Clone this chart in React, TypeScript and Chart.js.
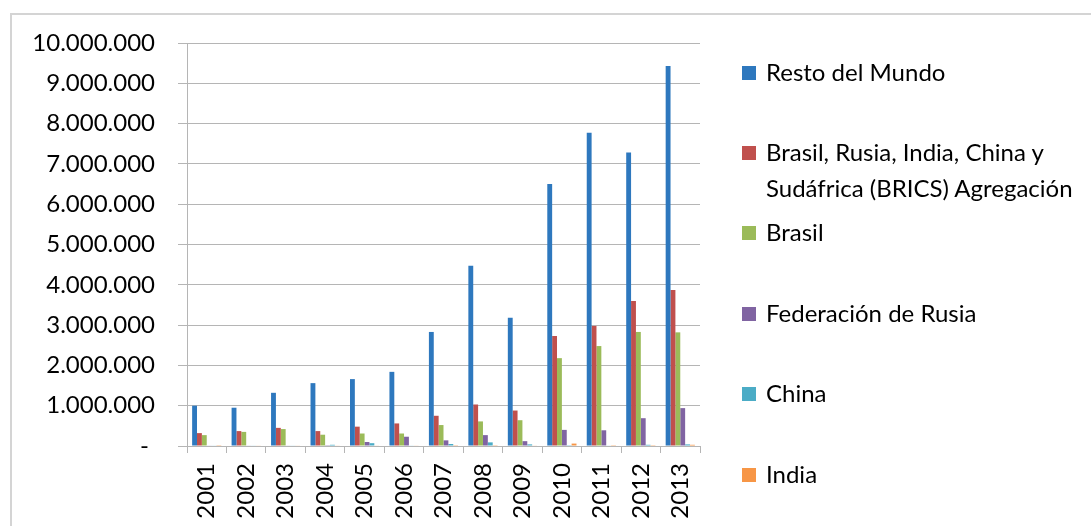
import React, { useEffect, useRef } from "react";
import { Chart, registerables } from "chart.js";

Chart.register(...registerables);

const years = ["2001", "2002", "2003", "2004", "2005", "2006", "2007", "2008", "2009", "2010", "2011", "2012", "2013"];

const seriesNames = [
  "Resto del Mundo",
  "Brasil, Rusia, India, China y\nSudáfrica (BRICS) Agregación",
  "Brasil",
  "Federación de Rusia",
  "China",
  "India",
];

const restoDelMundo = [1000000, 950000, 1320000, 1560000, 1660000, 1840000, 2830000, 4470000, 3180000, 6500000, 7770000, 7280000, 9430000];
const brics = [320000, 370000, 450000, 370000, 480000, 560000, 750000, 1030000, 880000, 2730000, 2980000, 3600000, 3870000];
const brasil = [270000, 350000, 420000, 280000, 310000, 310000, 520000, 610000, 640000, 2180000, 2480000, 2830000, 2820000];
const rusia = [10000, 10000, 10000, 20000, 100000, 230000, 140000, 270000, 120000, 400000, 390000, 690000, 940000];
const china = [10000, 10000, 10000, 30000, 70000, 10000, 50000, 90000, 40000, 20000, 10000, 30000, 40000];
const india = [20000, 10000, 10000, 10000, 10000, 10000, 20000, 20000, 10000, 60000, 20000, 20000, 30000];

const yMax = 10000000;
const yStep = 1000000;

const colors = ["#2E78BE", "#C0504D", "#9BBB59", "#8064A2", "#4BACC6", "#F79646"];

const FONT = "Lato, sans-serif";
const GRID = "#b5b5b5";

// legend layout (style only)
const legendTops = [54, 134, 214, 295, 375, 456];

function fmt(v: number): string {
  if (v === 0) return "- ";
  return Math.round(v).toString().replace(/\B(?=(\d{3})+(?!\d))/g, ".");
}

export default function App() {
  const canvasRef = useRef<HTMLCanvasElement | null>(null);

  useEffect(() => {
    if (!canvasRef.current) return;
    const values = [restoDelMundo, brics, brasil, rusia, china, india];
    const chart = new Chart(canvasRef.current, {
      type: "bar",
      data: {
        labels: years,
        datasets: values.map((d, i) => ({
          label: seriesNames[i],
          data: d,
          backgroundColor: colors[i],
          borderWidth: 0,
          barPercentage: 1,
          categoryPercentage: 0.74,
        })),
      },
      options: {
        animation: false,
        responsive: false,
        maintainAspectRatio: false,
        layout: { padding: { left: 10, top: 43, right: 391, bottom: 0 } },
        plugins: { legend: { display: false }, tooltip: { enabled: false } },
        scales: {
          x: {
            grid: { drawOnChartArea: false, drawTicks: true, tickLength: 7, color: GRID, offset: true },
            border: { color: GRID, width: 1 },
            ticks: {
              minRotation: 90,
              maxRotation: 90,
              autoSkip: false,
              padding: 10,
              color: "#000",
              font: { family: FONT, size: 24 },
            },
            afterFit: (s: any) => {
              s.height = 80;
            },
          },
          y: {
            min: 0,
            max: yMax,
            grid: { color: GRID, tickLength: 9, drawTicks: true },
            border: { color: GRID, width: 1 },
            ticks: {
              stepSize: yStep,
              padding: 23,
              color: "#000",
              font: { family: FONT, size: 24 },
              callback: (v: any) => fmt(Number(v)),
            },
            afterFit: (s: any) => {
              s.width = 177;
            },
          },
        },
      },
    });
    return () => chart.destroy();
  }, []);

  return (
    <div style={{ position: "fixed", left: 0, top: 0, width: 1091, height: 526, background: "#fff", overflow: "hidden" }}>
      <div
        style={{
          position: "absolute",
          left: 10,
          top: 13,
          width: 1200,
          height: 600,
          border: "2px solid #d4d4d4",
          boxSizing: "border-box",
        }}
      />
      <canvas ref={canvasRef} width={1091} height={526} style={{ position: "absolute", left: 0, top: 0 }} />
      {seriesNames.map((name, i) => (
        <div
          key={i}
          style={{
            position: "absolute",
            left: 742,
            top: legendTops[i],
            fontFamily: FONT,
            fontSize: 24,
            lineHeight: "36px",
            color: "#000",
            whiteSpace: "pre",
            display: "flex",
            alignItems: "flex-start",
          }}
        >
          <span
            style={{
              display: "inline-block",
              width: 14,
              height: 14,
              background: colors[i],
              marginTop: 12,
              marginRight: 10,
              flex: "none",
            }}
          />
          <span>{name}</span>
        </div>
      ))}
    </div>
  );
}
